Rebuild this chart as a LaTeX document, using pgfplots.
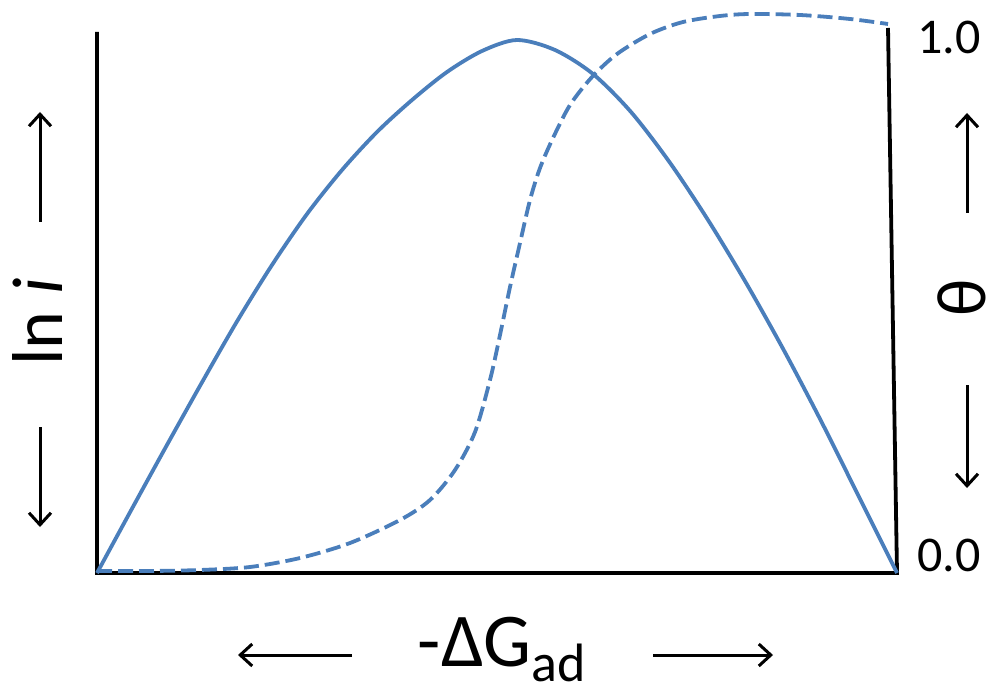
\documentclass[border=0pt]{standalone}
\usepackage{fontspec}
\setmainfont{Carlito}
\usepackage{pgfplots}
\pgfplotsset{compat=1.18}
\usetikzlibrary{arrows.meta}
\definecolor{curve}{RGB}{74,126,187}
\begin{document}
\begin{tikzpicture}
\begin{axis}[scale only axis, width=499.5pt, height=344.5pt,
  xmin=0, xmax=999, ymin=0, ymax=689, y dir=reverse,
  hide axis, clip=false]
% axes frame
\addplot[black, line width=1.9pt, line join=miter] coordinates {(97,32) (97,573) (897,573) (888,28)};
% volcano curve (ln i)
\addplot[curve, line width=1.9pt, smooth] coordinates {
(97,573) (132,508.6) (167,444.9) (202,382.3) (237,321.4) (272,265) (307,214) (342,170)
(377,132) (412,100) (447,72) (482,51) (517,40)
(555,50) (593,74) (631,112) (669,161.4) (707,218.4) (745,281.1) (783,348.7)
(821,420.9) (859,496.9) (897,573)};
% coverage curve (theta)
\addplot[curve, line width=1.9pt, smooth, dash pattern=on 7.5pt off 3pt] coordinates {
(97,571) (150,571) (200,570) (250,567) (300,558) (350,543) (400,520) (430,500) (455,470)
(475,432) (490,380) (500,335) (510,287) (520,243) (530,200) (540,168) (553,138) (570,105)
(592,77) (617,54) (650,34) (683,22) (720,16) (750,14) (800,15) (850,19) (888,24)};
% labels
\node[rotate=90, inner sep=0pt, font=\fontsize{36}{40}\selectfont] at (axis cs:38,322) {ln \textit{i}};
\node[rotate=90, inner sep=0pt, font=\fontsize{35}{40}\selectfont] at (axis cs:962,298) {θ};
\node[inner sep=0pt, font=\fontsize{25}{30}\selectfont] at (axis cs:949,37) {1.0};
\node[inner sep=0pt, font=\fontsize{25}{30}\selectfont] at (axis cs:949,555) {0.0};
\node[inner sep=0pt, font=\fontsize{38}{42}\selectfont, anchor=base] at (axis cs:502,666) {-ΔG\raisebox{-7.5pt}{\fontsize{27}{30}\selectfont ad}};
% direction arrows
\draw[line width=1.5pt, -{Straight Barb[length=6pt,width=11pt]}] (axis cs:40,222) -- (axis cs:40,112);
\draw[line width=1.5pt, -{Straight Barb[length=6pt,width=11pt]}] (axis cs:40,427) -- (axis cs:40,527);
\draw[line width=1.5pt, -{Straight Barb[length=6pt,width=11pt]}] (axis cs:967,213) -- (axis cs:967,113);
\draw[line width=1.5pt, -{Straight Barb[length=6pt,width=11pt]}] (axis cs:967,385) -- (axis cs:967,488);
\draw[line width=1.5pt, -{Straight Barb[length=6pt,width=11pt]}] (axis cs:352,655) -- (axis cs:238,655);
\draw[line width=1.5pt, -{Straight Barb[length=6pt,width=11pt]}] (axis cs:653,655) -- (axis cs:773,655);
\end{axis}
\pgfresetboundingbox
\useasboundingbox (current axis.south west) rectangle (current axis.north east);
\end{tikzpicture}
\end{document}
